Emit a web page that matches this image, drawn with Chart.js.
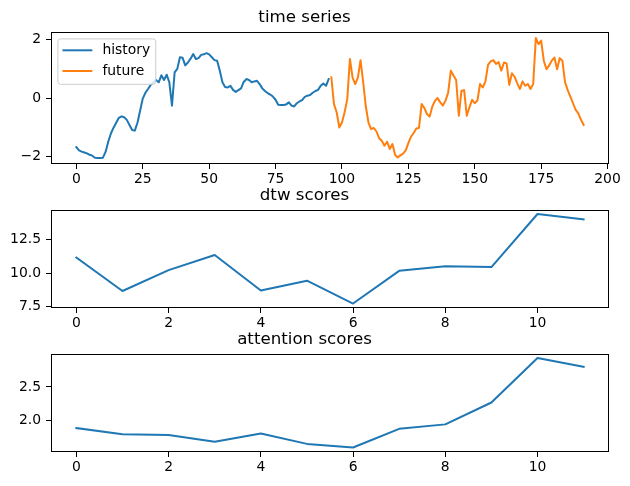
<!DOCTYPE html>
<html><head><meta charset="utf-8">
<script src="https://cdn.jsdelivr.net/npm/chart.js@4.4.1/dist/chart.umd.min.js"></script>
<style>
html,body{margin:0;padding:0;background:#fff;}
#wrap{position:relative;width:630px;height:486px;background:#fff;}
#wrap canvas{position:absolute;left:0;top:0;}
</style></head><body>
<div id="wrap">
<canvas id="c1" width="630" height="486"></canvas>
<canvas id="c2" width="630" height="486"></canvas>
<canvas id="c3" width="630" height="486"></canvas>
</div>
<script>
// ---------- data ----------
const historySeries = [
 -1.69,-1.80,-1.84,-1.87,-1.90,-1.95,-1.98,-2.05,-2.06,-2.06,
 -2.05,-1.85,-1.50,-1.22,-1.02,-0.85,-0.68,-0.63,-0.66,-0.75,
 -0.93,-1.10,-1.12,-0.85,-0.44,-0.02,0.18,0.31,0.45,0.54,
 0.62,0.54,0.78,0.62,0.80,0.54,-0.26,0.88,1.00,1.40,
 1.38,1.12,1.22,1.35,1.51,1.34,1.37,1.48,1.50,1.54,
 1.50,1.40,1.30,1.28,0.94,0.54,0.38,0.36,0.42,0.28,
 0.21,0.27,0.33,0.55,0.65,0.62,0.54,0.57,0.59,0.48,
 0.33,0.24,0.17,0.12,0.05,-0.06,-0.23,-0.24,-0.24,-0.22,
 -0.15,-0.26,-0.29,-0.18,-0.12,-0.07,0.04,0.08,0.10,0.18,
 0.24,0.28,0.42,0.50,0.42,0.65
];
const futureSeries = [
 0.71,-0.21,-0.49,-1.01,-0.84,-0.49,-0.04,1.34,0.70,0.48,
 0.70,1.30,0.54,-0.30,-0.85,-1.07,-1.03,-1.15,-1.38,-1.47,
 -1.64,-1.50,-1.75,-1.58,-1.95,-2.04,-1.97,-1.91,-1.80,-1.55,
 -1.33,-1.20,-1.05,-1.03,-0.21,-0.34,-0.55,-0.64,-0.30,-0.10,
 0.00,-0.15,-0.26,-0.09,0.19,0.94,0.77,0.62,-0.61,0.25,
 0.27,-0.61,-0.32,-0.06,-0.18,-0.09,0.48,0.36,0.56,1.14,
 1.26,1.30,1.17,1.23,0.94,1.22,1.19,0.45,0.85,0.73,
 0.50,0.31,0.57,0.42,0.48,0.31,0.48,2.06,1.85,1.97,
 1.28,0.99,1.12,1.28,1.39,0.99,1.37,1.28,0.54,0.27,
 0.05,-0.18,-0.41,-0.53,-0.75,-0.92
];
const dtwScores = [11.16, 8.66, 10.22, 11.36, 8.69, 9.43, 7.72, 10.17, 10.52, 10.45, 14.43, 14.03];
const attentionScores = [1.892, 1.80, 1.79, 1.69, 1.81, 1.657, 1.603, 1.88, 1.946, 2.27, 2.93, 2.80];

const seriesTicksX = [0, 25, 50, 75, 100, 125, 150, 175, 200];
const seriesTicksY = [-2, 0, 2];
const scoreTicksX = [0, 2, 4, 6, 8, 10];
const dtwTicksY = [7.5, 10.0, 12.5];
const attentionTicksY = [2.0, 2.5];

const titles = ['time series', 'dtw scores', 'attention scores'];
const seriesLabels = ['history', 'future'];

// ---------- helpers ----------
const FONT = "'DejaVu Sans', sans-serif";
const BLUE = '#1f77b4', ORANGE = '#ff7f0e';
Chart.defaults.font.family = FONT;

function autoRange(values) {
  const lo = Math.min(...values), hi = Math.max(...values);
  const m = (hi - lo) * 0.05;
  return [lo - m, hi + m];
}
const minus = s => String(s).replace('-', '\u2212');

const spinePlugin = {
  id: 'spineBox',
  afterDraw(chart) {
    const ctx = chart.ctx;
    const a = chart.chartArea;
    const l = Math.round(a.left) + 0.5, t = Math.round(a.top) + 0.5;
    const r = Math.round(a.right) - 0.5, b = Math.round(a.bottom) - 0.5;
    ctx.save();
    ctx.strokeStyle = '#000000';
    ctx.lineWidth = 1;
    ctx.lineCap = 'square';
    ctx.beginPath();
    ctx.moveTo(l, t); ctx.lineTo(r, t);
    ctx.moveTo(r, t); ctx.lineTo(r, b);
    ctx.moveTo(r, b); ctx.lineTo(l, b);
    ctx.moveTo(l, b); ctx.lineTo(l, t);
    ctx.stroke();
    ctx.restore();
  }
};

const legendPlugin = {
  id: 'mplLegend',
  afterDatasetsDraw(chart) {
    const ctx = chart.ctx;
    const a = chart.chartArea;
    const ds = chart.data.datasets;
    const fs = 13.9;
    ctx.save();
    ctx.font = fs + 'px ' + FONT;
    const tw = Math.max(...ds.map(d => ctx.measureText(d.label).width));
    const x0 = a.left + 6.9, y0 = a.top + 6.9;
    const w = 5.6 + 27.8 + 11.1 + tw + 5.6;
    const h = 45.4;
    const r = 2.8;
    ctx.beginPath();
    ctx.moveTo(x0 + r, y0);
    ctx.lineTo(x0 + w - r, y0); ctx.arcTo(x0 + w, y0, x0 + w, y0 + r, r);
    ctx.lineTo(x0 + w, y0 + h - r); ctx.arcTo(x0 + w, y0 + h, x0 + w - r, y0 + h, r);
    ctx.lineTo(x0 + r, y0 + h); ctx.arcTo(x0, y0 + h, x0, y0 + h - r, r);
    ctx.lineTo(x0, y0 + r); ctx.arcTo(x0, y0, x0 + r, y0, r);
    ctx.closePath();
    ctx.fillStyle = 'rgba(255,255,255,0.8)';
    ctx.fill();
    ctx.strokeStyle = '#cccccc';
    ctx.lineWidth = 1;
    ctx.stroke();
    ds.forEach((d, i) => {
      const y = y0 + 11.4 + i * 20.7;
      ctx.beginPath();
      ctx.moveTo(x0 + 5.6, y); ctx.lineTo(x0 + 5.6 + 27.8, y);
      ctx.strokeStyle = d.borderColor; ctx.lineWidth = 2; ctx.lineCap = 'square';
      ctx.stroke();
      ctx.fillStyle = '#000';
      ctx.textBaseline = 'middle';
      ctx.textAlign = 'left';
      ctx.fillText(d.label, x0 + 5.6 + 27.8 + 11.1, y + 0.5);
    });
    ctx.restore();
  }
};

function makeOptions(cfg) {
  const tickFont = {family: FONT, size: 13.9};
  return {
    responsive: false, animation: false, devicePixelRatio: 1,
    layout: {padding: {left: 0, right: 21, top: cfg.padTop, bottom: cfg.padBottom}},
    plugins: {
      legend: {display: false},
      tooltip: {enabled: false},
      title: {display: true, text: cfg.title, color: '#000',
        font: {family: FONT, size: 16.67, weight: 'normal', lineHeight: 1.2},
        padding: {top: cfg.titleTop, bottom: cfg.titleBottom}}
    },
    scales: {
      x: {
        type: 'linear', min: cfg.xRange[0], max: cfg.xRange[1],
        afterBuildTicks: s => { s.ticks = cfg.xTicks.map(v => ({value: v})); },
        afterFit: s => { s.height = 30; },
        grid: {drawOnChartArea: false, drawTicks: true, tickLength: 5, color: '#000', lineWidth: 1},
        border: {display: false},
        ticks: {color: '#000', font: tickFont, padding: 2.5, maxRotation: 0, autoSkip: false,
          callback: v => minus(cfg.xFmt(v))}
      },
      y: {
        type: 'linear', min: cfg.yRange[0], max: cfg.yRange[1],
        afterBuildTicks: s => { s.ticks = cfg.yTicks.map(v => ({value: v})); },
        afterFit: s => { s.width = 51; },
        grid: {drawOnChartArea: false, drawTicks: true, tickLength: 5, color: '#000', lineWidth: 1},
        border: {display: false},
        ticks: {color: '#000', font: tickFont, padding: 5, autoSkip: false,
          callback: v => minus(cfg.yFmt(v))}
      }
    }
  };
}

function lineDs(label, values, start, color) {
  return {label, data: values.map((v, i) => ({x: start + i, y: v})),
    borderColor: color, backgroundColor: color, borderWidth: 2,
    pointRadius: 0, tension: 0, fill: false,
    borderJoinStyle: 'round', borderCapStyle: 'square'};
}

// ---------- chart 1: time series ----------
const nTotal = historySeries.length + futureSeries.length;
const xr1 = autoRange([0, nTotal - 1]);
const yr1 = autoRange(historySeries.concat(futureSeries));
new Chart(document.getElementById('c1'), {
  type: 'line',
  data: {datasets: [
    lineDs(seriesLabels[0], historySeries, 0, BLUE),
    lineDs(seriesLabels[1], futureSeries, historySeries.length, ORANGE)
  ]},
  options: makeOptions({title: titles[0], padTop: 0, padBottom: 292, titleTop: 7.6, titleBottom: 4.4,
    xRange: xr1, yRange: yr1, xTicks: seriesTicksX, yTicks: seriesTicksY,
    xFmt: v => String(v), yFmt: v => String(v)}),
  plugins: [legendPlugin, spinePlugin]
});

// ---------- chart 2: dtw scores ----------
const xr2 = autoRange([0, dtwScores.length - 1]);
new Chart(document.getElementById('c2'), {
  type: 'line',
  data: {datasets: [lineDs('dtw', dtwScores, 0, BLUE)]},
  options: makeOptions({title: titles[1], padTop: 185.2, padBottom: 148, titleTop: 0, titleBottom: 4.3,
    xRange: xr2, yRange: autoRange(dtwScores), xTicks: scoreTicksX, yTicks: dtwTicksY,
    xFmt: v => String(v), yFmt: v => v.toFixed(1)}),
  plugins: [spinePlugin]
});

// ---------- chart 3: attention scores ----------
const xr3 = autoRange([0, attentionScores.length - 1]);
new Chart(document.getElementById('c3'), {
  type: 'line',
  data: {datasets: [lineDs('attention', attentionScores, 0, BLUE)]},
  options: makeOptions({title: titles[2], padTop: 329.2, padBottom: 4, titleTop: 0, titleBottom: 4.3,
    xRange: xr3, yRange: autoRange(attentionScores), xTicks: scoreTicksX, yTicks: attentionTicksY,
    xFmt: v => String(v), yFmt: v => v.toFixed(1)}),
  plugins: [spinePlugin]
});
</script>
</body></html>
